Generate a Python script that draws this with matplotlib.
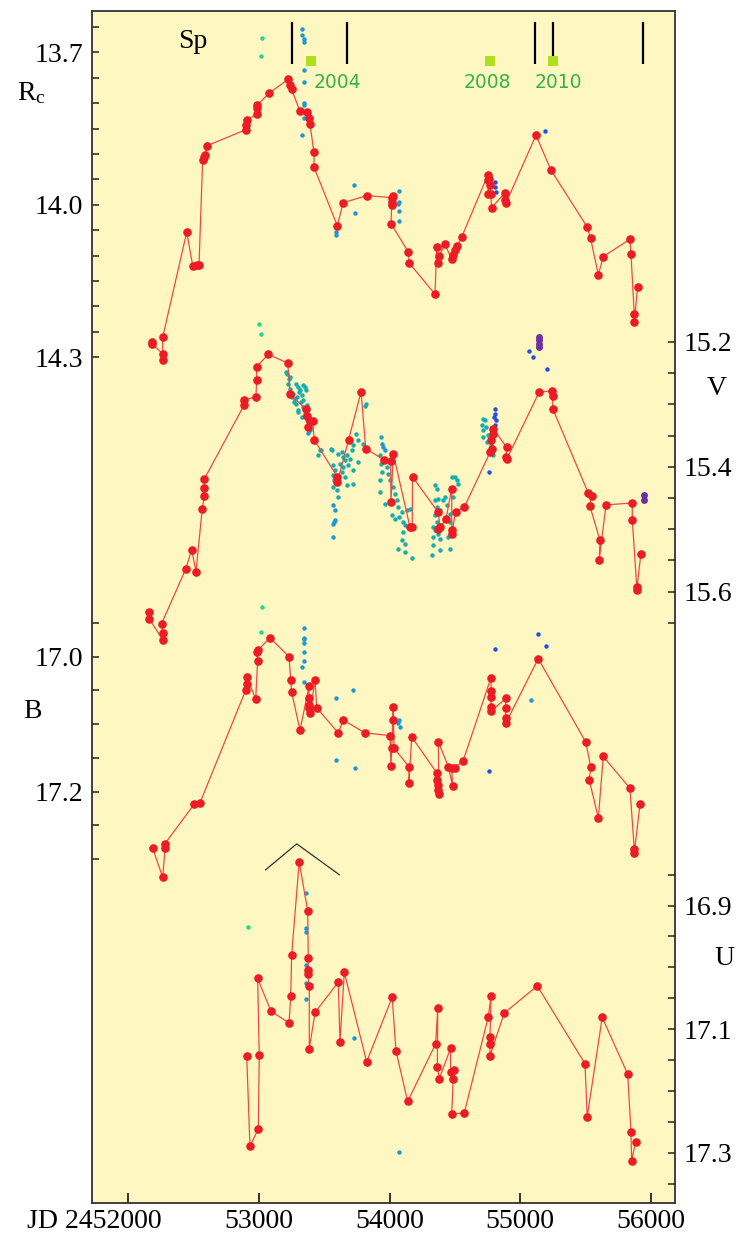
import numpy as np
import matplotlib.pyplot as plt

plt.rcParams['font.family'] = ['Liberation Serif', 'DejaVu Serif']
plt.rcParams['mathtext.fontset'] = 'custom'
plt.rcParams['mathtext.rm'] = 'Liberation Serif'

# --- photometry, JD - 2400000 and magnitude ---
rc_jd = [52179, 52179, 52263, 52263, 52263, 52447, 52493, 52523, 52541, 52569, 52579, 52587, 52600,
         52901, 52901, 52906, 52982, 52982, 52987, 53079, 53224, 53237, 53250, 53314, 53365, 53383,
         53390, 53421, 53421, 53599, 53645, 53824, 54016, 54028, 54016, 54016, 54010, 54143, 54150,
         54347, 54360, 54368, 54380, 54423, 54475, 54482, 54500, 54518, 54551, 54750, 54750, 54755,
         54762, 54768, 54773, 54781, 54883, 54883, 54890, 55120, 55235, 55510, 55538, 55597, 55635,
         55839, 55847, 55872, 55872, 55898]
rc_mag = [14.270, 14.274, 14.293, 14.306, 14.261, 14.054, 14.120, 14.119, 14.119, 13.912, 13.906,
          13.902, 13.884, 13.852, 13.843, 13.833, 13.822, 13.810, 13.804, 13.780, 13.753, 13.764,
          13.773, 13.816, 13.817, 13.830, 13.841, 13.897, 13.926, 14.041, 13.996, 13.982, 13.986,
          13.983, 13.994, 14.001, 14.037, 14.093, 14.115, 14.176, 14.083, 14.115, 14.101, 14.078,
          14.107, 14.099, 14.089, 14.081, 14.064, 13.942, 13.951, 13.979, 13.950, 13.961, 13.979,
          14.006, 13.976, 13.991, 13.997, 13.863, 13.932, 14.043, 14.066, 14.138, 14.102, 14.068,
          14.097, 14.215, 14.231, 14.161]
rc_blue_jd = [53331, 53331, 53347, 53347, 53347, 53347, 53347, 53347, 53347, 53331, 53725, 53732,
              53587, 53587, 54074, 54074, 54061, 54074, 54074]
rc_blue_mag = [13.654, 13.665, 13.674, 13.680, 13.735, 13.759, 13.800, 13.804, 13.829, 13.863,
               13.961, 14.017, 14.060, 14.054, 13.973, 13.995, 13.999, 14.012, 14.032]
rc_dblue_jd = [54806, 54806, 54814, 55189]
rc_dblue_mag = [13.955, 13.965, 13.974, 13.855]
rc_green_jd = [53021, 53013]
rc_green_mag = [13.671, 13.707]

v_jd = [52160, 52160, 52263, 52263, 52255, 52439, 52485, 52518, 52566, 52581, 52581, 52581, 52887,
        52887, 52977, 52982, 52982, 53071, 53220, 53240, 53360, 53370, 53377, 53390, 53411, 53423,
        53599, 53599, 53686, 53781, 53817, 53957, 54008, 54010, 54028, 54156, 54173, 54175, 54372,
        54385, 54372, 54431, 54475, 54475, 54475, 54505, 54571, 54768, 54785, 54775, 54789, 54793,
        54896, 54890, 54896, 55143, 55240, 55248, 55248, 55520, 55546, 55533, 55610, 55604, 55656,
        55857, 55857, 55891, 55891, 55923]
v_mag = [15.633, 15.643, 15.677, 15.666, 15.651, 15.564, 15.533, 15.568, 15.467, 15.447, 15.434,
         15.420, 15.301, 15.293, 15.288, 15.261, 15.240, 15.220, 15.234, 15.284, 15.308, 15.319,
         15.337, 15.327, 15.327, 15.357, 15.416, 15.425, 15.357, 15.280, 15.371, 15.389, 15.390,
         15.457, 15.379, 15.497, 15.497, 15.416, 15.473, 15.496, 15.500, 15.484, 15.435, 15.501,
         15.508, 15.472, 15.465, 15.377, 15.371, 15.357, 15.348, 15.339, 15.369, 15.384, 15.388,
         15.281, 15.278, 15.287, 15.307, 15.442, 15.447, 15.463, 15.518, 15.549, 15.461, 15.458,
         15.485, 15.592, 15.597, 15.539]
v_cyan_jd = [53217, 53224, 53237, 53250, 53268, 53283, 53301, 53314, 53327, 53339, 53352, 53360,
             53339, 53301, 53327, 53365, 53390, 53352, 53276, 53449, 53474, 53551, 53209, 53237,
             53280, 53306, 53300, 53232, 53262, 53288, 53319, 53365, 53339, 53377,
             53467, 53556, 53569, 53582, 53569, 53574, 53564, 53595, 53607, 53607, 53633, 53645,
             53658, 53676, 53696, 53709, 53722, 53683, 53645, 53633, 53620, 53658, 53671, 53717,
             53722, 53760, 53742, 53760, 53794, 53819, 53811,
             53931, 53926, 53931, 53939, 53926, 53926, 53964, 53977, 53990, 54003, 54028, 54041,
             54054, 54066, 54092, 54016, 54041, 54074, 54104, 54117, 54104, 54092, 54117, 54066,
             54117, 54169, 54130, 54156,
             54347, 54360, 54372, 54347, 54360, 54410, 54423, 54385, 54347, 54360, 54334, 54347,
             54372, 54385, 54334, 54385, 54462, 54449, 54462, 54462, 54500, 54475, 54513, 54525,
             54487, 54482, 54437, 54423, 54322, 54334,
             54712, 54730, 54704, 54717, 54737, 54755, 54717, 54743, 54773, 54781, 54789]
v_cyan_mag = [15.251, 15.267, 15.275, 15.288, 15.296, 15.299, 15.272, 15.277, 15.285, 15.293,
              15.272, 15.277, 15.304, 15.309, 15.320, 15.325, 15.341, 15.315, 15.291, 15.381,
              15.373, 15.372, 15.248, 15.256, 15.267, 15.280, 15.312, 15.259, 15.283, 15.288,
              15.296, 15.301, 15.269, 15.307,
              15.373, 15.373, 15.397, 15.405, 15.413, 15.421, 15.432, 15.437, 15.448, 15.379,
              15.376, 15.384, 15.389, 15.381, 15.387, 15.373, 15.365, 15.397, 15.400, 15.408,
              15.395, 15.416, 15.429, 15.405, 15.427, 15.392, 15.347, 15.357, 15.363, 15.299,
              15.303,
              15.352, 15.381, 15.395, 15.408, 15.421, 15.440, 15.459, 15.400, 15.411, 15.421,
              15.432, 15.443, 15.453, 15.464, 15.472, 15.477, 15.483, 15.480, 15.488, 15.493,
              15.504, 15.517, 15.523, 15.531, 15.536, 15.546, 15.469, 15.467,
              15.429, 15.435, 15.451, 15.453, 15.464, 15.453, 15.448, 15.469, 15.477, 15.488,
              15.496, 15.501, 15.507, 15.515, 15.525, 15.533, 15.532, 15.512, 15.488, 15.475,
              15.416, 15.416, 15.421, 15.427, 15.448, 15.435, 15.461, 15.485, 15.541, 15.512,
              15.323, 15.325, 15.333, 15.341, 15.336, 15.349, 15.352, 15.360, 15.365, 15.373,
              15.381]
v_blue_jd = [53569, 53582, 53574, 53569, 53582, 53569, 53939, 53951, 53964, 53377]
v_blue_mag = [15.462, 15.470, 15.488, 15.491, 15.485, 15.513, 15.363, 15.368, 15.373, 15.346]
v_dblue_jd = [54806, 54806, 54798, 54814, 54806, 54798, 54806, 54762, 55069, 55095, 55202]
v_dblue_mag = [15.308, 15.315, 15.320, 15.325, 15.333, 15.341, 15.347, 15.409, 15.214, 15.225,
               15.243]
v_purple_jd = [55145, 55145, 55145, 55145, 55946, 55946]
v_purple_mag = [15.192, 15.197, 15.203, 15.208, 15.445, 15.453]
v_green_jd = [53002, 53013]
v_green_mag = [15.171, 15.188]

b_jd = [52187, 52263, 52281, 52281, 52503, 52548, 52898, 52906, 52906, 52975, 52990, 52982, 52995,
        53084, 53230, 53243, 53250, 53314, 53383, 53383, 53385, 53383, 53390, 53429, 53442, 53607,
        53645, 53811, 54003, 54010, 54016, 54028, 54028, 54035, 54148, 54148, 54169, 54360, 54360,
        54372, 54372, 54378, 54372, 54449, 54482, 54475, 54500, 54563, 54776, 54776, 54776, 54776,
        54776, 54888, 54888, 54888, 54888, 55137, 55502, 55539, 55528, 55597, 55635, 55839, 55872,
        55872, 55916]
b_mag = [17.284, 17.327, 17.284, 17.277, 17.219, 17.217, 17.050, 17.040, 17.030, 17.063, 17.006,
         16.993, 16.990, 16.972, 17.000, 17.035, 17.053, 17.109, 17.044, 17.062, 17.076, 17.072,
         17.084, 17.035, 17.076, 17.113, 17.094, 17.113, 17.117, 17.162, 17.136, 17.074, 17.094,
         17.136, 17.163, 17.188, 17.119, 17.172, 17.183, 17.190, 17.197, 17.203, 17.126, 17.163,
         17.192, 17.165, 17.165, 17.154, 17.031, 17.051, 17.060, 17.075, 17.081, 17.062, 17.076,
         17.091, 17.099, 17.003, 17.127, 17.164, 17.183, 17.239, 17.148, 17.195, 17.285, 17.291,
         17.219]
b_blue_jd = [53347, 53347, 53347, 53347, 53347, 53347, 53331, 53347, 53587, 53722, 53587, 53735,
             54074, 54066, 54079, 55079]
b_blue_mag = [16.957, 16.972, 16.974, 16.980, 16.993, 17.007, 17.016, 17.037, 17.061, 17.050,
              17.153, 17.165, 17.094, 17.098, 17.105, 17.064]
b_dblue_jd = [54762, 54806, 55133, 55194]
b_dblue_mag = [17.170, 16.989, 16.966, 16.984]
b_green_jd = [53025, 53013]
b_green_mag = [16.926, 16.964]

u_jd = [52906, 52931, 52995, 53002, 52990, 53092, 53230, 53243, 53250, 53308, 53373, 53377, 53377,
        53373, 53385, 53385, 53429, 53607, 53620, 53653, 53824, 54020, 54048, 54138, 54352, 54368,
        54365, 54380, 54466, 54466, 54492, 54487, 54475, 54571, 54755, 54776, 54768, 54768, 54768,
        54877, 55130, 55495, 55512, 55627, 55822, 55847, 55852, 55883]
u_mag = [17.143, 17.289, 17.262, 17.142, 17.018, 17.071, 17.090, 17.047, 16.980, 16.829, 16.909,
         16.985, 17.004, 17.011, 17.030, 17.132, 17.073, 17.024, 17.121, 17.008, 17.153, 17.048,
         17.135, 17.217, 17.124, 17.066, 17.162, 17.180, 17.131, 17.169, 17.166, 17.180, 17.237,
         17.236, 17.080, 17.047, 17.113, 17.124, 17.143, 17.074, 17.030, 17.156, 17.242, 17.081,
         17.173, 17.266, 17.313, 17.282]
u_blue_jd = [53357, 53357, 53357, 53357, 53357, 53357, 53725, 54074]
u_blue_mag = [16.879, 16.937, 16.942, 16.996, 17.026, 17.052, 17.114, 17.299]
u_green_jd = [52918]
u_green_mag = [16.935]

# outburst marker (caret) drawn in the U panel
caret_jd = [53051, 53289, 53615]
caret_mag = [16.842, 16.800, 16.850]

# spectral epochs and season markers
sp_jd = [53255, 53673, 55114, 55252, 55939]
year_labels = ['2004', '2008', '2010']
year_jd = [53396, 54768, 55247]

red = '#ec1c24'
line_red = '#f04848'
cyan = '#14adb0'
lblue = '#1a98dc'
dblue = '#1d50ea'
green = '#22d88e'
purple = '#7030a0'

fig = plt.figure(figsize=(7.43, 12.33), dpi=100)
rect = [0.1238, 0.0241, 0.7847, 0.9672]
ax_rc = fig.add_axes(rect, facecolor='#fff7c1')
ax_b = fig.add_axes(rect, sharex=ax_rc, facecolor='none', label='B')
ax_v = fig.add_axes(rect, sharex=ax_rc, facecolor='none', label='V')
ax_u = fig.add_axes(rect, sharex=ax_rc, facecolor='none', label='U')

ax_rc.set_xlim(51722, 56184)
ax_rc.set_ylim(15.966, 13.618)
ax_b.set_ylim(17.810, 16.043)
ax_v.set_ylim(16.579, 14.670)
ax_u.set_ylim(17.382, 15.451)


def draw_band(ax, jd, mag, extras):
    for ejd, emag, col in extras:
        ax.plot(ejd, emag, 'o', color=col, ms=3.2, mew=0, zorder=2)
    ax.plot(jd, mag, '-', color=line_red, lw=0.9, zorder=3)
    ax.plot(jd, mag, 'o', color=red, ms=6.2, mew=0, zorder=4)


draw_band(ax_rc, rc_jd, rc_mag, [(rc_blue_jd, rc_blue_mag, lblue), (rc_dblue_jd, rc_dblue_mag, dblue),
                                 (rc_green_jd, rc_green_mag, green)])
draw_band(ax_v, v_jd, v_mag, [(v_cyan_jd, v_cyan_mag, cyan), (v_blue_jd, v_blue_mag, lblue),
                              (v_dblue_jd, v_dblue_mag, dblue), (v_green_jd, v_green_mag, green)])
ax_v.plot(v_purple_jd, v_purple_mag, 'o', color=purple, ms=5, mew=0, zorder=5)
draw_band(ax_b, b_jd, b_mag, [(b_blue_jd, b_blue_mag, lblue), (b_dblue_jd, b_dblue_mag, dblue),
                              (b_green_jd, b_green_mag, green)])
draw_band(ax_u, u_jd, u_mag, [(u_blue_jd, u_blue_mag, lblue), (u_green_jd, u_green_mag, green)])
ax_u.plot(caret_jd, caret_mag, '-', color='#333333', lw=0.9)

# spectra epochs and season squares along the top
xtr = ax_rc.get_xaxis_transform()
ax_rc.vlines(sp_jd, 0.9553, 0.9908, color='black', lw=1.6, transform=xtr)
ax_rc.plot(year_jd, [0.9578] * len(year_jd), 's', color='#aee01e', ms=6.5, mew=0, transform=xtr,
           zorder=5)
for lab, xpx in zip(year_labels, [337, 487, 558]):
    fig.text(xpx / 743, 1 - 88 / 1233, lab, ha='center', va='baseline', color='#35b34a',
             family='DejaVu Sans', fontsize=13.5)


def set_mag_ticks(ax, lo, hi, labelled):
    ticks = np.round(np.arange(lo, hi + 0.001, 0.05), 2)
    labels = ['%.1f' % t if any(abs(t - l) < 1e-6 for l in labelled) else '' for t in ticks]
    ax.set_yticks(ticks, labels=labels)


set_mag_ticks(ax_rc, 13.65, 14.30, [13.7, 14.0, 14.3])
set_mag_ticks(ax_b, 16.95, 17.30, [17.0, 17.2])
set_mag_ticks(ax_v, 15.20, 15.65, [15.2, 15.4, 15.6])
set_mag_ticks(ax_u, 16.85, 17.35, [16.9, 17.1, 17.3])

for ax in (ax_v, ax_u):
    ax.yaxis.tick_right()
for ax in (ax_b, ax_v, ax_u):
    ax.xaxis.set_visible(False)
    for s in ax.spines.values():
        s.set_visible(False)
for ax in (ax_rc, ax_b, ax_v, ax_u):
    ax.tick_params(axis='y', direction='in', length=5, width=1.1, pad=6.5, labelsize=20,
                   colors='#222222', labelcolor='black')
for s in ax_rc.spines.values():
    s.set_color('#333333')
    s.set_linewidth(1.3)

ax_rc.set_xticks([52000, 53000, 54000, 55000, 56000], labels=['', '53000', '54000', '55000', '56000'])
ax_rc.tick_params(axis='x', direction='in', length=7, width=1.1, pad=4, labelsize=20)
fig.text(94 / 743, 1 - 1228 / 1233, 'JD 2452000', ha='center', va='baseline', fontsize=20)

# band names
fig.text(17 / 743, 1 - 100 / 1233, r'$\mathregular{R_c}$', ha='left', va='baseline', fontsize=20)
fig.text(193 / 743, 1 - 48 / 1233, 'Sp', ha='center', va='baseline', fontsize=20)
fig.text(32 / 743, 1 - 718 / 1233, 'B', ha='center', va='baseline', fontsize=20)
fig.text(717 / 743, 1 - 395 / 1233, 'V', ha='center', va='baseline', fontsize=20)
fig.text(724 / 743, 1 - 965 / 1233, 'U', ha='center', va='baseline', fontsize=20)

fig.savefig('out.png', dpi=100)
